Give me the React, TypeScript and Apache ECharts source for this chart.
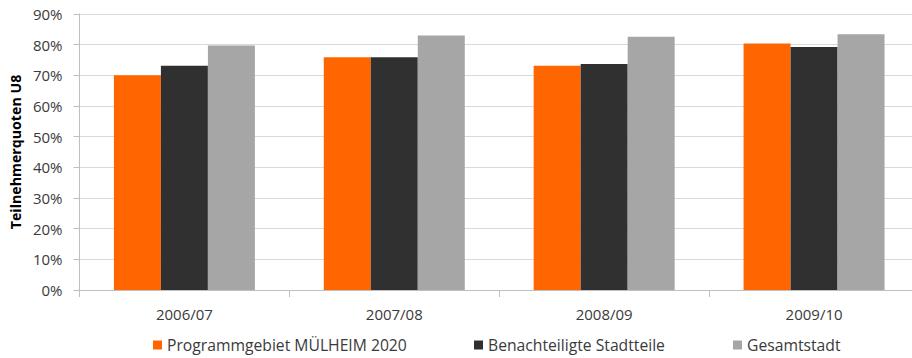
import React, { useEffect, useRef } from "react";
import * as echarts from "echarts";

// School years on the category axis
const categories = ["2006/07", "2007/08", "2008/09", "2009/10"];

// Participation rates (%) per area
const programmgebiet = [70.0, 75.9, 73.1, 80.4];
const benachteiligt = [73.1, 75.9, 73.7, 79.2];
const gesamtstadt = [79.7, 83.0, 82.6, 83.4];

const seriesNames = [
  "Programmgebiet MÜLHEIM 2020",
  "Benachteiligte Stadtteile",
  "Gesamtstadt",
];
const seriesColors = ["#FF6600", "#303030", "#A6A6A6"];

const yAxisTitle = "Teilnehmerquoten U8";
const yMax = 90;
const yStep = 10;

const FONT = "'Open Sans', 'Noto Sans', sans-serif";
const TEXT_COLOR = "#3a3a3a";

export default function App() {
  const ref = useRef<HTMLDivElement>(null);

  useEffect(() => {
    if (!ref.current) return;
    const chart = echarts.init(ref.current, null, { renderer: "svg" });

    const seriesData = [programmgebiet, benachteiligt, gesamtstadt];
    const legendLefts = [153, 474, 733];

    chart.setOption({
      animation: false,
      textStyle: { fontFamily: FONT },
      grid: { left: 79, right: 0, top: 14, bottom: 68, containLabel: false },
      legend: seriesNames.map((name, i) => ({
        data: [name],
        left: legendLefts[i],
        top: 337,
        itemWidth: 9,
        itemHeight: 9,
        icon: "rect",
        padding: 0,
        textStyle: { fontFamily: FONT, fontSize: 15.7, color: TEXT_COLOR },
      })),
      xAxis: {
        type: "category",
        data: categories,
        axisLine: { lineStyle: { color: "#BFBFBF", width: 1 } },
        axisTick: { show: true, length: 7, lineStyle: { color: "#BFBFBF" } },
        axisLabel: {
          fontFamily: FONT,
          fontSize: 15,
          color: TEXT_COLOR,
          margin: 16,
        },
      },
      yAxis: {
        type: "value",
        min: 0,
        max: yMax,
        interval: yStep,
        name: yAxisTitle,
        nameLocation: "middle",
        nameGap: 54,
        nameTextStyle: {
          fontFamily: FONT,
          fontSize: 14.2,
          fontWeight: "bold",
          color: "#000",
        },
        axisLine: { show: true, lineStyle: { color: "#BFBFBF", width: 1 } },
        axisTick: { show: true, length: 6, lineStyle: { color: "#BFBFBF" } },
        axisLabel: {
          fontFamily: FONT,
          fontSize: 15,
          color: TEXT_COLOR,
          margin: 17,
          formatter: "{value}%",
        },
        splitLine: { lineStyle: { color: "#D9D9D9", width: 1 } },
      },
      series: seriesNames.map((name, i) => ({
        name,
        type: "bar",
        data: seriesData[i],
        barWidth: 47,
        barGap: "0%",
        itemStyle: { color: seriesColors[i] },
      })),
    });

    return () => chart.dispose();
  }, []);

  return (
    <div
      style={{
        position: "absolute",
        left: 0,
        top: 0,
        width: 912,
        height: 358,
        overflow: "hidden",
      }}
    >
      <div ref={ref} style={{ width: 919, height: 358 }} />
    </div>
  );
}
